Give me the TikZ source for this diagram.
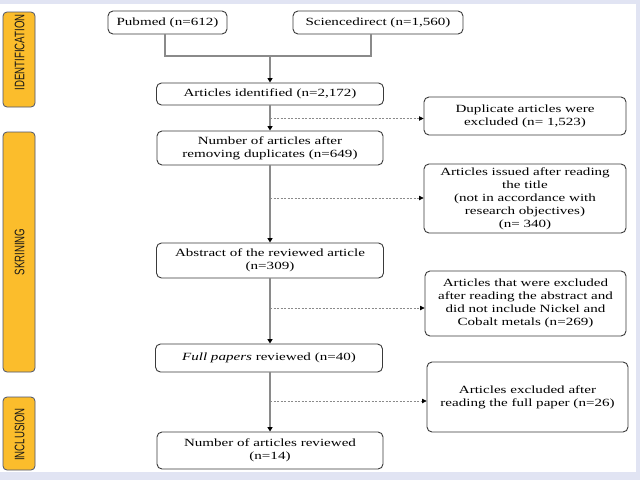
\documentclass[tikz,border=0pt]{standalone}
\usepackage{fontspec}
\usetikzlibrary{arrows.meta,calc}
\newfontfamily\boxfont[FakeStretch=1.37]{Liberation Serif}
\newfontfamily\sidefont[FakeStretch=0.70]{Liberation Sans}
\definecolor{bgl}{HTML}{E1E4F3}
\definecolor{sidefill}{HTML}{FBBD2C}
\definecolor{sideedge}{HTML}{4A5470}
\definecolor{linegray}{HTML}{8A8A8A}
\definecolor{edgegray}{HTML}{3A3A3A}
\tikzset{
  flowbox/.style={draw=edgegray, line width=0.9pt, rounded corners=5pt, fill=white,
    align=center, inner sep=1pt, text=black,
    font=\boxfont\fontsize{11}{13}\selectfont},
  sidebox/.style={draw=sideedge, line width=0.8pt, rounded corners=4pt, fill=sidefill},
  sidetext/.style={rotate=90, font=\sidefont\fontsize{13.8}{14}\selectfont, text=black!90, inner sep=0pt},
  mainarrow/.style={draw=linegray, line width=1.3pt, -{Triangle[length=4.5pt,width=5pt,color=black]}},
  plainline/.style={draw=linegray, line width=1.3pt},
  dasharrow/.style={draw=linegray, line width=0.7pt, dash pattern=on 2pt off 1.5pt, -{Triangle[length=4.5pt,width=4.5pt,color=black]}}
}
\begin{document}
\begin{tikzpicture}[x=1pt,y=-1pt]
\useasboundingbox (0,0) rectangle (640,480);
\fill[bgl] (0,0) rectangle (640,480);
\fill[white] (0,4) rectangle (636,472);
% side labels
\node[sidebox, minimum width=32pt, minimum height=95pt] (sid) at (19,59.5) {};
\node[sidetext] (sidt) at (19.5,52.5) {IDENTIFICATION};
\node[sidebox, minimum width=32pt, minimum height=240pt] (sskr) at (19,252) {};
\node[sidetext] (sskrt) at (19.5,252) {SKRINING};
\node[sidebox, minimum width=32pt, minimum height=73pt] (sinc) at (19,433.5) {};
\node[sidetext] (sinct) at (19.5,434.5) {INCLUSION};
% boxes
\node[flowbox, minimum width=119pt, minimum height=23pt] (pub) at (167.5,22.5) {Pubmed (n=612)};
\node[flowbox, minimum width=170pt, minimum height=23pt] (sci) at (378,22.5) {Sciencedirect (n=1,560)};
\node[flowbox, minimum width=227pt, minimum height=22pt] (ident) at (270,94) {Articles identified (n=2,172)};
\node[flowbox, minimum width=226pt, minimum height=34pt] (dedup) at (270,148) {Number of articles after\\removing duplicates (n=649)};
\node[flowbox, minimum width=227pt, minimum height=35pt] (abs) at (270,260.5) {Abstract of the reviewed article\\(n=309)};
\node[flowbox, minimum width=227pt, minimum height=28pt] (full) at (269,358) {\textit{Full papers} reviewed (n=40)};
\node[flowbox, minimum width=226pt, minimum height=37pt] (final) at (270,450.5) {Number of articles reviewed\\(n=14)};
\node[flowbox, minimum width=202pt, minimum height=38pt] (dup) at (525,116) {Duplicate articles were\\excluded (n= 1,523)};
\node[flowbox, minimum width=202pt, minimum height=69pt] (title) at (525,198.5) {Articles issued after reading\\the title\\(not in accordance with\\research objectives)\\(n= 340)};
\node[flowbox, minimum width=201pt, minimum height=65pt] (absx) at (525.5,303.5) {Articles that were excluded\\after reading the abstract and\\did not include Nickel and\\Cobalt metals (n=269)};
\node[flowbox, minimum width=201pt, minimum height=70pt] (fullx) at (527.5,397) {Articles excluded after\\reading the full paper (n=26)};
% merge connector
\coordinate (mleft) at (165,56);
\coordinate (mright) at (371,56);
\coordinate (mmid) at (270,56);
\draw[plainline] (pub.south -| mleft) -- (mleft) -- (mright) -- (sci.south -| mright);
\draw[mainarrow] (mmid) -- (ident.north -| mmid);
% main flow
\draw[mainarrow] (ident.south -| mmid) -- (dedup.north -| mmid);
\draw[mainarrow] (dedup.south -| mmid) -- (abs.north -| mmid);
\draw[mainarrow] (abs.south -| mmid) -- (full.north -| mmid);
\draw[mainarrow] (full.south -| mmid) -- (final.north -| mmid);
% exclusions
\coordinate (d1) at (270,118.5);
\coordinate (d2) at (270,198);
\coordinate (d3) at (270,308);
\coordinate (d4) at (270,401);
\draw[dasharrow] (d1) -- (dup.west |- d1);
\draw[dasharrow] (d2) -- (title.west |- d2);
\draw[dasharrow] (d3) -- (absx.west |- d3);
\draw[dasharrow] (d4) -- (fullx.west |- d4);
\end{tikzpicture}
\end{document}
